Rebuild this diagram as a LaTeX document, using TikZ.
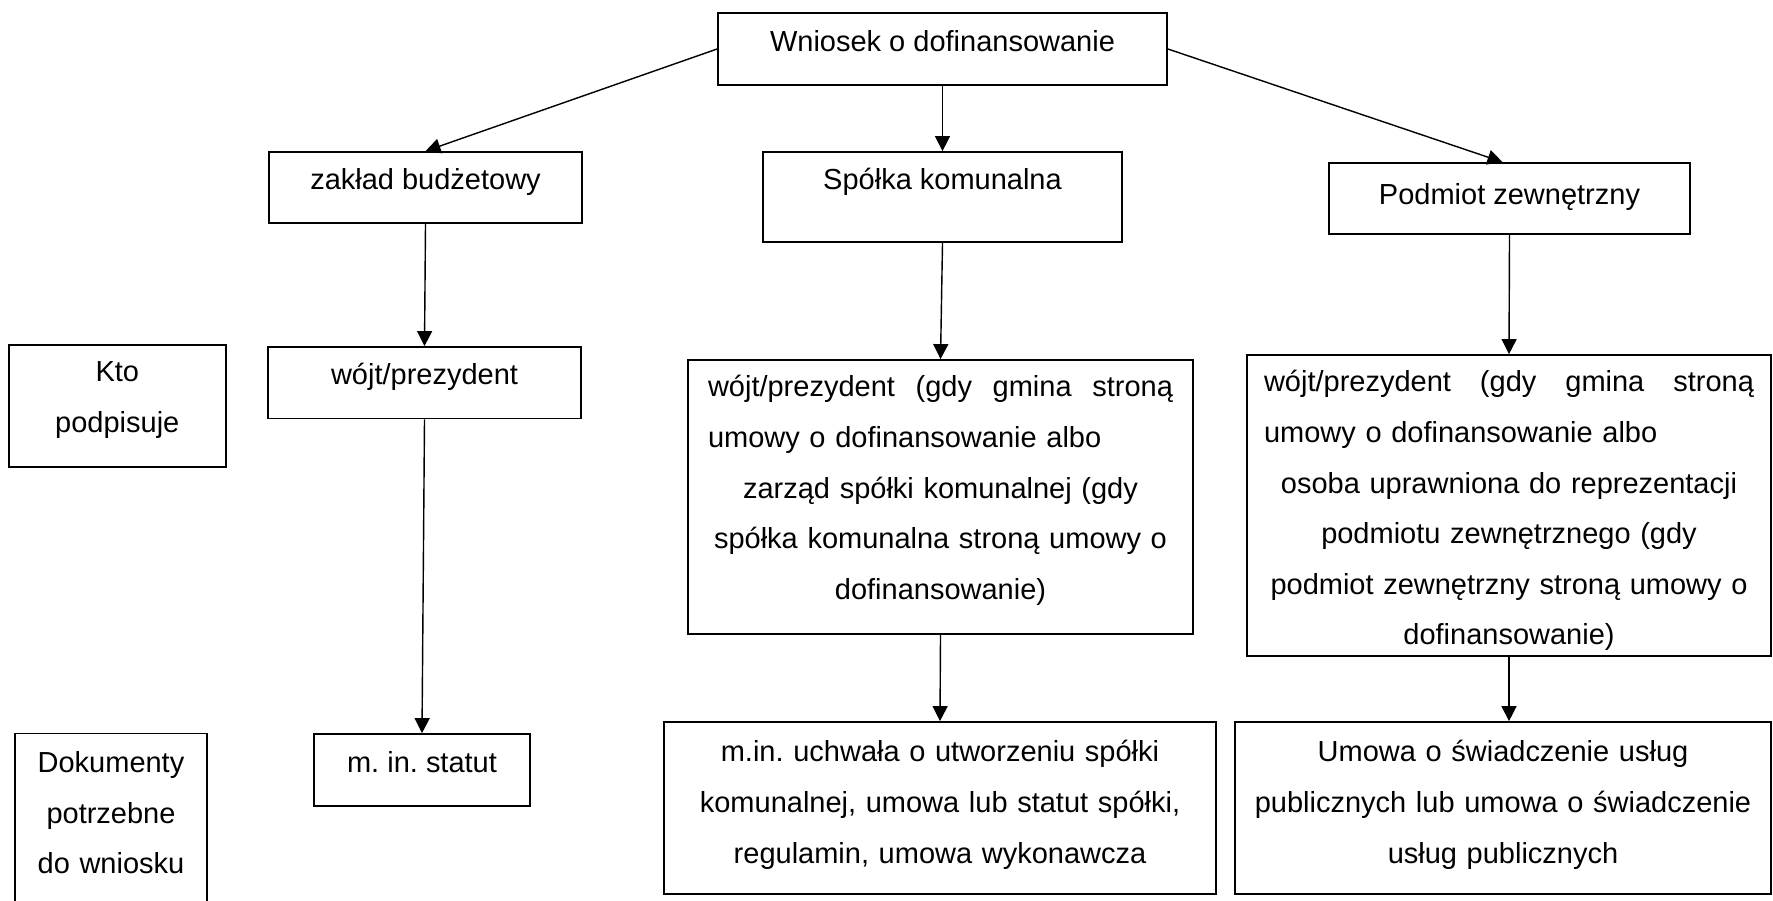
\documentclass[tikz,border=0pt]{standalone}
\usepackage{fontspec}
\setmainfont{Liberation Sans}
\usetikzlibrary{arrows.meta}
\usetikzlibrary{positioning}

\tikzset{
  box/.style={draw=black, line width=0.5pt, rectangle, inner sep=0pt, align=center,
    font=\fontsize{8.25pt}{14.37pt}\selectfont, text height=0.22cm},
  arr/.style={draw=black, line width=0.4pt, -{Triangle[length=0.15cm,width=0.15cm]}}
}
\newcommand{\spreadln}[2]{\makebox[#1][s]{#2}}
\newcommand{\leftln}[2]{\makebox[#1][l]{#2}}

\begin{document}
\begin{tikzpicture}
\useasboundingbox (0,0) rectangle (17.73,9.01);

% top row
\node[box,minimum width=4.49cm,minimum height=0.72cm,text depth=0.16cm] (wniosek) at (9.425,8.52) {Wniosek o dofinansowanie};
\node[box,minimum width=3.13cm,minimum height=0.71cm,text depth=0.17cm] (zaklad) at (4.255,7.135) {zakład budżetowy};
\node[box,minimum width=3.59cm,minimum height=0.90cm,text depth=0.36cm] (spolka) at (9.425,7.04) {Spółka komunalna};
\node[box,minimum width=3.61cm,minimum height=0.71cm,text depth=0.09cm] (podmiot) at (15.095,7.025) {Podmiot zewnętrzny};

% kto podpisuje
\node[box,minimum width=2.17cm,minimum height=1.22cm,text width=1.9cm,text depth=0.696cm] (kto) at (1.173,4.952) {Kto\\podpisuje};
\node[box,minimum width=3.13cm,minimum height=0.715cm,text depth=0.174cm] (wojt) at (4.245,5.183) {wójt/prezydent};
\node[box,minimum width=5.05cm,minimum height=2.74cm,text width=4.65cm,text depth=2.22cm] (wojtsp) at (9.405,4.04) {\spreadln{4.65cm}{wójt/prezydent\hfill(gdy\hfill gmina\hfill stroną}\\
\leftln{4.65cm}{umowy o dofinansowanie albo}\\
zarząd spółki komunalnej (gdy\\
spółka komunalna stroną umowy o\\
dofinansowanie)};
\node[box,minimum width=5.24cm,minimum height=3.01cm,text width=4.9cm,text depth=2.49cm] (wojtpz) at (15.09,3.955) {\spreadln{4.9cm}{wójt/prezydent\hfill(gdy\hfill gmina\hfill stroną}\\
\leftln{4.9cm}{umowy o dofinansowanie albo}\\
osoba uprawniona do reprezentacji\\
podmiotu zewnętrznego (gdy\\
podmiot zewnętrzny stroną umowy o\\
dofinansowanie)};

% dokumenty
\node[box,minimum width=1.92cm,minimum height=1.725cm,text width=1.8cm,text depth=1.165cm] (dok) at (1.11,0.8125) {Dokumenty\\potrzebne\\do wniosku};
\node[box,minimum width=2.156cm,minimum height=0.72cm,text depth=0.17cm] (statut) at (4.22,1.31) {m.\ in.\ statut};
\node[box,minimum width=5.52cm,minimum height=1.72cm,text width=5.3cm,text depth=1.14cm] (uchwala) at (9.40,0.93) {m.in.\ uchwała o utworzeniu spółki\\
komunalnej, umowa lub statut spółki,\\
regulamin, umowa wykonawcza};
\node[box,minimum width=5.36cm,minimum height=1.72cm,text width=5.2cm,text depth=1.14cm] (umowa) at (15.03,0.93) {Umowa o świadczenie usług\\
publicznych lub umowa o świadczenie\\
usług publicznych};

% arrows
\draw[arr] (wniosek.west) -- (zaklad.north);
\draw[arr] (wniosek.south) -- (spolka.north);
\draw[arr] (wniosek.east) -- ([xshift=-0.07cm]podmiot.north);
\draw[arr] (zaklad.south) -- (wojt.north);
\draw[arr] (spolka.south) -- (wojtsp.north);
\draw[arr] (podmiot.south) -- (wojtpz.north);
\draw[arr] (wojt.south) -- (statut.north);
\draw[arr] (wojtsp.south) -- (uchwala.north);
\draw[arr] (wojtpz.south) -- (wojtpz.south |- umowa.north);

\end{tikzpicture}
\end{document}
